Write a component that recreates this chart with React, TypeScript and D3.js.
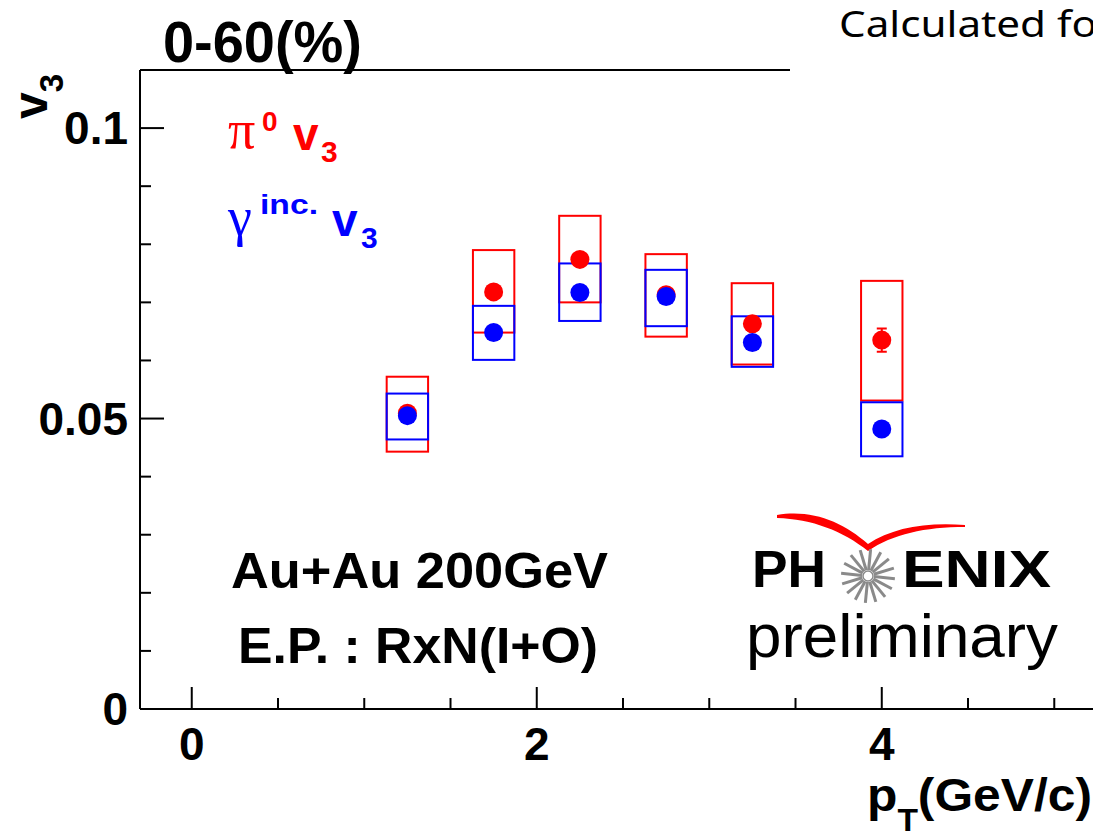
import { useMemo } from 'react'
import * as d3 from 'd3'

const WIDTH = 1093
const HEIGHT = 838

// pT bins (GeV/c) and half width of the systematic boxes
const ptBins = [1.25, 1.75, 2.25, 2.75, 3.25, 4.0]
const boxHalfWidth = 0.12

// pi0 v3: central values, stat errors, systematic band
const pi0V3 = [0.0509, 0.0718, 0.0774, 0.0713, 0.0663, 0.0635]
const pi0Stat = [0.0008, 0.0009, 0.001, 0.001, 0.0012, 0.002]
const pi0SysLow = [0.0443, 0.0648, 0.07, 0.0641, 0.0593, 0.0531]
const pi0SysHigh = [0.0572, 0.079, 0.0849, 0.0783, 0.0733, 0.0737]

// inclusive photon v3
const gammaV3 = [0.0505, 0.0648, 0.0717, 0.071, 0.0631, 0.0482]
const gammaStat = [0.0005, 0.0006, 0.0006, 0.0007, 0.0007, 0.0008]
const gammaSysLow = [0.0464, 0.0601, 0.0668, 0.0659, 0.0589, 0.0435]
const gammaSysHigh = [0.0543, 0.0694, 0.0767, 0.0756, 0.0676, 0.0528]

const xMajorTicks = [0, 2, 4]
const xTickLabels = ['0', '2', '4']
const yMajorTicks = [0, 0.05, 0.1]
const yTickLabels = ['0', '0.05', '0.1']

const RED = '#ff0000'
const BLUE = '#0000ff'
const FONT = '"Liberation Sans", Arial, sans-serif'
const SERIF = '"Liberation Serif", "Times New Roman", serif'

function Boxes({ low, high, color, x, y }) {
  return (
    <g>
      {ptBins.map((pt, i) => (
        <rect
          key={'box' + i}
          x={x(pt - boxHalfWidth)}
          y={y(high[i])}
          width={x(pt + boxHalfWidth) - x(pt - boxHalfWidth)}
          height={y(low[i]) - y(high[i])}
          fill="none"
          stroke={color}
          strokeWidth={2}
        />
      ))}
    </g>
  )
}

function Dots({ values, stat, color, x, y }) {
  return (
    <g>
      {ptBins.map((pt, i) => {
        const cx = x(pt)
        const hi = y(values[i] + stat[i])
        const lo = y(values[i] - stat[i])
        return (
          <g key={'pt' + i}>
            <line x1={cx} x2={cx} y1={hi} y2={lo} stroke={color} strokeWidth={2} />
            <line x1={cx - 5} x2={cx + 5} y1={hi} y2={hi} stroke={color} strokeWidth={2} />
            <line x1={cx - 5} x2={cx + 5} y1={lo} y2={lo} stroke={color} strokeWidth={2} />
            <circle cx={cx} cy={y(values[i])} r={9.5} fill={color} />
          </g>
        )
      })}
    </g>
  )
}

function PhenixLogo() {
  const cx = 868
  const cy = 576
  const rays = d3.range(16).map(k => (k * Math.PI * 2) / 16 + Math.PI / 32)
  return (
    <g>
      {/* red swoosh */}
      <path
        d="M777,515 C812,509 843,522 868,544 C892,528 925,522 965,525 L965,527 C925,527 893,534 868,551 C843,531 812,519 777,518 Z"
        fill={RED}
      />
      <text x={752} y={587} fontFamily={FONT} fontWeight="bold" fontSize={52} textLength={74} lengthAdjust="spacingAndGlyphs">PH</text>
      {rays.map((a, k) => (
        <line
          key={k}
          x1={cx + Math.cos(a) * 6}
          y1={cy + Math.sin(a) * 6}
          x2={cx + Math.cos(a) * 27}
          y2={cy + Math.sin(a) * 27}
          stroke="#8a8a8a"
          strokeWidth={3}
        />
      ))}
      <circle cx={cx} cy={cy} r={5} fill="white" stroke="#8a8a8a" strokeWidth={1.5} />
      <text x={902} y={587} fontFamily={FONT} fontWeight="bold" fontSize={52} textLength={149} lengthAdjust="spacingAndGlyphs">ENIX</text>
      <text x={746} y={657} fontFamily={FONT} fontSize={62} textLength={312} lengthAdjust="spacingAndGlyphs">preliminary</text>
    </g>
  )
}

export default function App() {
  const x = useMemo(() => d3.scaleLinear().domain([-0.3, 5.25]).range([140, 1097.4]), [])
  const y = useMemo(() => d3.scaleLinear().domain([0, 0.11]).range([709, 70]), [])

  const xMinor = d3.range(0, 5.26, 0.5).filter(v => !xMajorTicks.includes(v))
  const yMinor = d3.range(0, 0.1101, 0.01).filter(v => !yMajorTicks.some(t => Math.abs(t - v) < 1e-6))

  const x0 = x(-0.3)
  const yBottom = y(0)
  const yTop = y(0.11)

  return (
    <div style={{ position: 'absolute', left: 0, top: 0 }}>
      <svg width={WIDTH} height={HEIGHT} style={{ display: 'block', background: 'white' }}>
        <rect width={WIDTH} height={HEIGHT} fill="white" />

        {/* frame */}
        <line x1={x0} x2={x0} y1={yTop} y2={yBottom} stroke="black" strokeWidth={2} />
        <line x1={x0} x2={WIDTH} y1={yBottom} y2={yBottom} stroke="black" strokeWidth={2} />
        <line x1={x0} x2={790} y1={yTop} y2={yTop} stroke="black" strokeWidth={2} />

        {/* x ticks */}
        {xMajorTicks.map((t, i) => (
          <g key={'xm' + i}>
            <line x1={x(t)} x2={x(t)} y1={yBottom} y2={yBottom - 22} stroke="black" strokeWidth={2} />
            <text x={x(t)} y={760} textAnchor="middle" fontFamily={FONT} fontWeight="bold" fontSize={46}>{xTickLabels[i]}</text>
          </g>
        ))}
        {xMinor.map((t, i) => (
          <line key={'xn' + i} x1={x(t)} x2={x(t)} y1={yBottom} y2={yBottom - 11} stroke="black" strokeWidth={2} />
        ))}

        {/* y ticks */}
        {yMajorTicks.map((t, i) => (
          <g key={'ym' + i}>
            <line x1={x0} x2={x0 + 24} y1={y(t)} y2={y(t)} stroke="black" strokeWidth={2} />
            <text x={128} y={y(t) + 16} textAnchor="end" fontFamily={FONT} fontWeight="bold" fontSize={46}>{yTickLabels[i]}</text>
          </g>
        ))}
        {yMinor.map((t, i) => (
          <line key={'yn' + i} x1={x0} x2={x0 + 11} y1={y(t)} y2={y(t)} stroke="black" strokeWidth={2} />
        ))}

        {/* systematic boxes, red first then blue, then points */}
        <Boxes low={pi0SysLow} high={pi0SysHigh} color={RED} x={x} y={y} />
        <Boxes low={gammaSysLow} high={gammaSysHigh} color={BLUE} x={x} y={y} />
        <Dots values={pi0V3} stat={pi0Stat} color={RED} x={x} y={y} />
        <Dots values={gammaV3} stat={gammaStat} color={BLUE} x={x} y={y} />

        {/* title */}
        <text x={163} y={62} fontFamily={FONT} fontWeight="bold" fontSize={57} textLength={199} lengthAdjust="spacingAndGlyphs">0-60(%)</text>
        <text x={839} y={37} fontFamily='"Noto Sans", "Open Sans", sans-serif' fontSize={36} textLength={258} lengthAdjust="spacingAndGlyphs">Calculated fo</text>

        {/* y axis title */}
        <text transform="translate(47,119) rotate(-90)" fontFamily={FONT} fontWeight="bold" fontSize={48}>
          v<tspan fontSize={33} dy={16}>3</tspan>
        </text>

        {/* x axis title */}
        <text x={1092} y={811} textAnchor="end" fontFamily={FONT} fontWeight="bold" fontSize={46} textLength={225} lengthAdjust="spacingAndGlyphs">
          p<tspan fontSize={31} dy={20}>T</tspan><tspan dy={-20}>(GeV/c)</tspan>
        </text>

        {/* legend */}
        <text x={228} y={148} fill={RED} fontFamily={SERIF} fontSize={54}>π</text>
        <text x={262} y={131} fill={RED} fontFamily={FONT} fontWeight="bold" fontSize={28}>0</text>
        <text x={293} y={150} fill={RED} fontFamily={FONT} fontWeight="bold" fontSize={46}>v</text>
        <text x={321} y={162} fill={RED} fontFamily={FONT} fontWeight="bold" fontSize={30}>3</text>

        <text x={228} y={235} fill={BLUE} fontFamily={SERIF} fontSize={54}>γ</text>
        <text x={260} y={214} fill={BLUE} fontFamily={FONT} fontWeight="bold" fontSize={28} textLength={58} lengthAdjust="spacingAndGlyphs">inc.</text>
        <text x={332} y={236} fill={BLUE} fontFamily={FONT} fontWeight="bold" fontSize={46}>v</text>
        <text x={361} y={248} fill={BLUE} fontFamily={FONT} fontWeight="bold" fontSize={30}>3</text>

        {/* annotations */}
        <text x={231} y={588} fontFamily={FONT} fontWeight="bold" fontSize={50} textLength={377} lengthAdjust="spacingAndGlyphs">Au+Au 200GeV</text>
        <text x={238} y={663} fontFamily={FONT} fontWeight="bold" fontSize={50} textLength={360} lengthAdjust="spacingAndGlyphs">E.P. : RxN(I+O)</text>

        <PhenixLogo />
      </svg>
    </div>
  )
}
